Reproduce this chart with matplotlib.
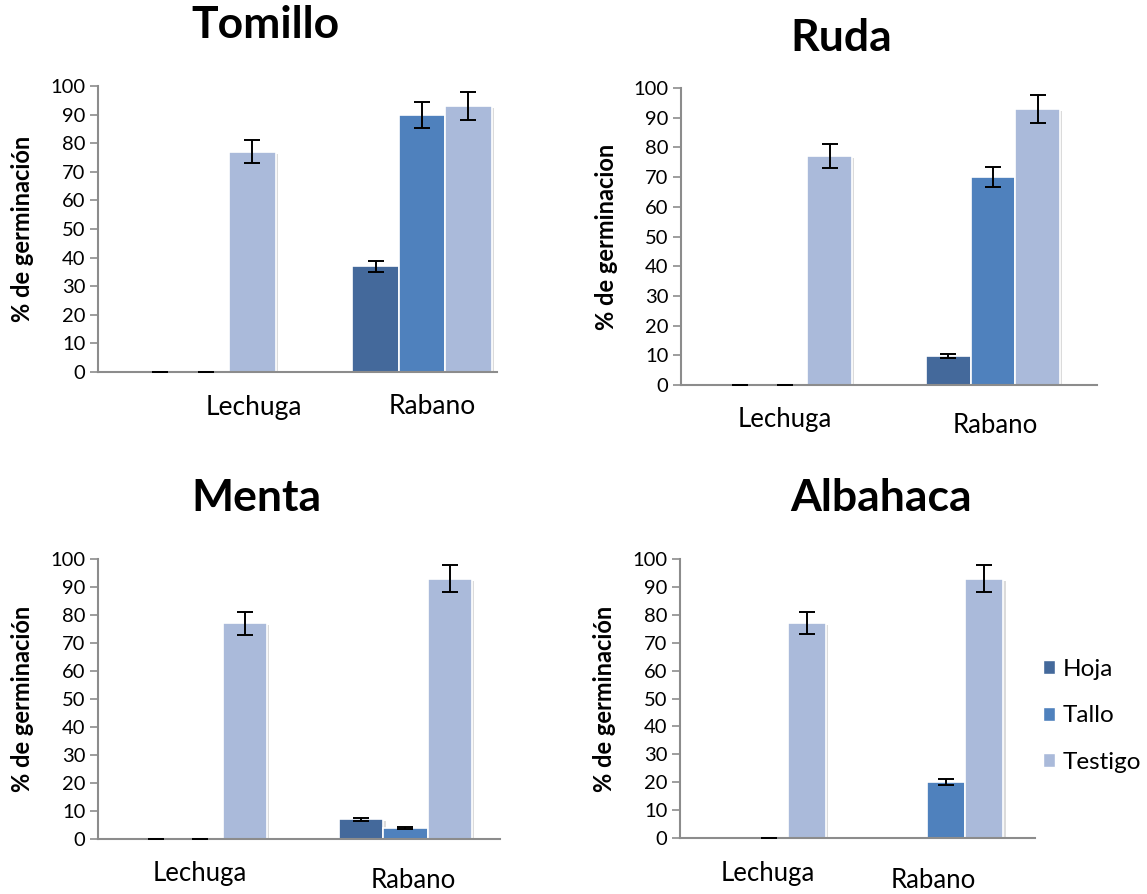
import numpy as np
import matplotlib
matplotlib.use("Agg")
import matplotlib.pyplot as plt
from matplotlib.patches import Patch
from matplotlib import patheffects as pe

plt.rcParams['font.family'] = ['Lato', 'DejaVu Sans']

# datos: % de germinacion por planta, parte y especie sembrada
categorias = ['Lechuga', 'Rabano']
partes = ['Hoja', 'Tallo', 'Testigo']

testigo = [77, 93]
testigo_err = [4, 4.8]

tomillo_hoja = [0, 37]
tomillo_hoja_err = [0, 1.9]
tomillo_tallo = [0, 89.8]
tomillo_tallo_err = [0, 4.5]

ruda_hoja = [0, 9.8]
ruda_hoja_err = [0, 0.6]
ruda_tallo = [0, 70]
ruda_tallo_err = [0, 3.5]

menta_hoja = [0, 7]
menta_hoja_err = [0, 0.4]
menta_tallo = [0, 4]
menta_tallo_err = [0, 0.3]

albahaca_hoja = [np.nan, np.nan]
albahaca_hoja_err = [0, 0]
albahaca_tallo = [0, 20]
albahaca_tallo_err = [0, 1.1]

colores = ['#44699B', '#4F81BD', '#AABADA']

W, H = 1147, 894
fig = plt.figure(figsize=(W / 100, H / 100), dpi=100)


def px(x, y):
    return x / W, 1 - y / H


# cada panel: titulo, valores, caja del eje en pixeles y colocacion de textos
paneles = [
    dict(titulo='Tomillo', ylabel='% de germinación',
         hoja=(tomillo_hoja, tomillo_hoja_err), tallo=(tomillo_tallo, tomillo_tallo_err),
         caja=(98, 497, 86, 372), catw=216, tpos=(265, 25), ylx=22,
         etiq=[(254, 407), (432, 407)], etsize=19),
    dict(titulo='Ruda', ylabel='% de germinacion',
         hoja=(ruda_hoja, ruda_hoja_err), tallo=(ruda_tallo, ruda_tallo_err),
         caja=(681, 1097, 88, 385), catw=208, tpos=(841, 38), ylx=606,
         etiq=[(785, 420), (995, 425)], etsize=18.5),
    dict(titulo='Menta', ylabel='% de germinación',
         hoja=(menta_hoja, menta_hoja_err), tallo=(menta_tallo, menta_tallo_err),
         caja=(98, 500, 559, 839), catw=205, tpos=(256, 498), ylx=22,
         etiq=[(200, 873), (413, 880)], etsize=18.5),
    dict(titulo='Albahaca', ylabel='% de germinación',
         hoja=(albahaca_hoja, albahaca_hoja_err), tallo=(albahaca_tallo, albahaca_tallo_err),
         caja=(680, 1035, 559, 838), catw=177.5, tpos=(881, 498), ylx=604,
         etiq=[(768, 873), (933, 880)], etsize=18.5),
]

ancho = 0.215
sombra = [pe.SimplePatchShadow(offset=(1.5, -1.5), shadow_rgbFace='#999999', alpha=0.35), pe.Normal()]

for p in paneles:
    x0, x1, ytop, ybot = p['caja']
    l, b = px(x0, ybot)
    ax = fig.add_axes([l, b, (x1 - x0) / W, (ybot - ytop) / H])
    x = np.arange(len(categorias))
    series = [p['hoja'], p['tallo'], (testigo, testigo_err)]
    for i, (vals, errs) in enumerate(series):
        pos = x + (i - 1) * ancho
        bars = ax.bar(pos, vals, ancho, color=colores[i], edgecolor='white', linewidth=1.2, zorder=2)
        for r in bars:
            r.set_path_effects(sombra)
        ax.errorbar(pos, vals, yerr=errs, fmt='none', ecolor='black', elinewidth=1.4,
                    capsize=5.5, capthick=1.4, zorder=3)

    ax.set_xlim(-0.5, -0.5 + (x1 - x0) / p['catw'])
    ax.set_ylim(0, 100)
    ax.set_yticks(range(0, 101, 10))
    ax.set_xticks([])
    ax.tick_params(axis='y', labelsize=14.5, length=6, width=1.2, color='#8C8C8C', pad=3)
    for s in ['top', 'right']:
        ax.spines[s].set_visible(False)
    for s in ['left', 'bottom']:
        ax.spines[s].set_color('#8C8C8C')
        ax.spines[s].set_linewidth(1.5)
    ax.patch.set_alpha(0)

    fig.text(*px(p['ylx'], (ytop + ybot) / 2), p['ylabel'], rotation=90, fontsize=17,
             fontweight='bold', ha='center', va='center')
    fig.text(*px(*p['tpos']), p['titulo'], fontsize=32, fontweight='bold', ha='center', va='center')
    for nombre, (tx, ty) in zip(categorias, p['etiq']):
        fig.text(*px(tx, ty), nombre, fontsize=p['etsize'], ha='center', va='center')

handles = [Patch(facecolor=c, edgecolor='white') for c in colores]
fig.legend(handles, partes, loc='center left', bbox_to_anchor=px(1021, 716), frameon=False,
           fontsize=17.5, handlelength=0.5, handleheight=0.5, handletextpad=0.3, labelspacing=1.05)

fig.savefig('out.png', dpi=100)
